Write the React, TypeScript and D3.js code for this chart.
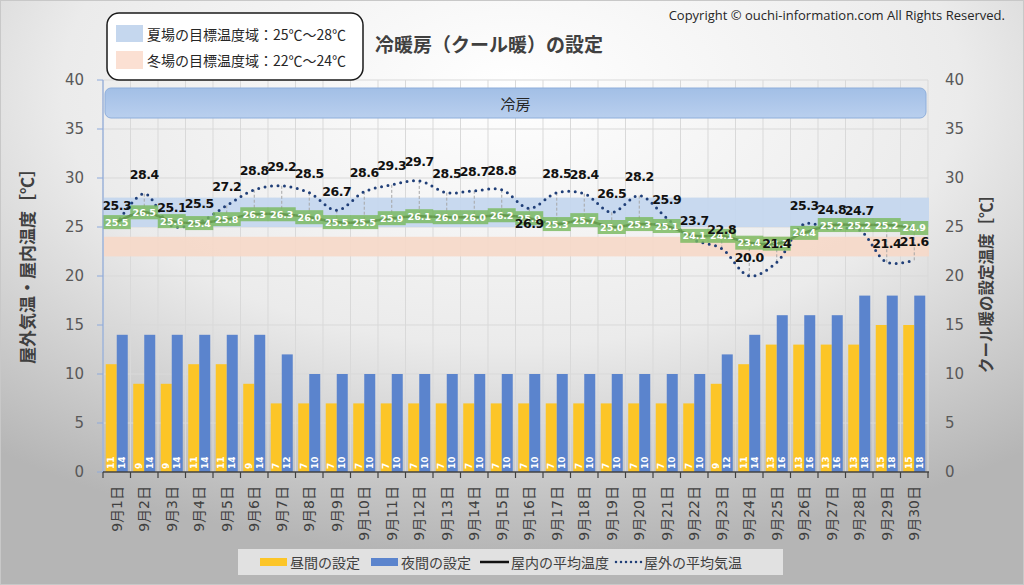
import React from "react";
import * as d3 from "d3";

const days = [
  "9月1日", "9月2日", "9月3日", "9月4日", "9月5日", "9月6日", "9月7日", "9月8日", "9月9日", "9月10日",
  "9月11日", "9月12日", "9月13日", "9月14日", "9月15日", "9月16日", "9月17日", "9月18日", "9月19日", "9月20日",
  "9月21日", "9月22日", "9月23日", "9月24日", "9月25日", "9月26日", "9月27日", "9月28日", "9月29日", "9月30日",
];
// クール暖の設定温度
const daySetting = [11, 9, 9, 11, 11, 9, 7, 7, 7, 7, 7, 7, 7, 7, 7, 7, 7, 7, 7, 7, 7, 7, 9, 11, 13, 13, 13, 13, 15, 15];
const nightSetting = [14, 14, 14, 14, 14, 14, 12, 10, 10, 10, 10, 10, 10, 10, 10, 10, 10, 10, 10, 10, 10, 10, 12, 14, 16, 16, 16, 18, 18, 18];
// 屋内の平均温度 / 屋外の平均気温
const indoor = [25.5, 26.5, 25.6, 25.4, 25.8, 26.3, 26.3, 26.0, 25.5, 25.5, 25.9, 26.1, 26.0, 26.0, 26.2, 25.9, 25.3, 25.7, 25.0, 25.3, 25.1, 24.1, 24.1, 23.4, 23.3, 24.4, 25.2, 25.2, 25.2, 24.9];
const outdoor = [25.3, 28.4, 25.1, 25.5, 27.2, 28.8, 29.2, 28.5, 26.7, 28.6, 29.3, 29.7, 28.5, 28.7, 28.8, 26.9, 28.5, 28.4, 26.5, 28.2, 25.9, 23.7, 22.8, 20.0, 21.4, 25.3, 24.8, 24.7, 21.4, 21.6];
const yTicks = [0, 5, 10, 15, 20, 25, 30, 35, 40];
const summerRange = [25, 28];
const winterRange = [22, 24];

const W = 1024;
const H = 585;
const left = 103;
const right = 928;
const top = 80;
const bottom = 472;

const NUM = "'DejaVu Sans', 'Noto Sans CJK JP', sans-serif";
const JP = "'Noto Sans CJK JP', sans-serif";

export default function App() {
  const x = d3.scaleBand<string>().domain(days).range([left, right]).padding(0);
  const sub = d3.scaleBand<string>().domain(["day", "night"]).range([0, x.bandwidth()]).paddingInner(0).paddingOuter(0.25);
  const y = d3.scaleLinear().domain([0, 40]).range([bottom, top]);
  const cx = (i: number) => (x(days[i]) as number) + x.bandwidth() / 2;

  const line = d3.line<number>().x((_, i) => cx(i)).y((d) => y(d)).curve(d3.curveCatmullRom.alpha(0.5));

  const boundaries = d3.range(days.length + 1).map((i) => left + i * x.step());

  return (
    <div style={{ position: "absolute", left: 0, top: 0 }}>
      <svg width={W} height={H} style={{ display: "block" }}>
        <defs>
          <radialGradient id="bg" cx="50%" cy="15%" r="80%">
            <stop offset="0" stopColor="#ffffff" />
            <stop offset="0.55" stopColor="#ebebeb" />
            <stop offset="1" stopColor="#b5b5b5" />
          </radialGradient>
          <linearGradient id="banner" x1="0" y1="0" x2="0" y2="1">
            <stop offset="0" stopColor="#a2bfe6" />
            <stop offset="1" stopColor="#b9cfee" />
          </linearGradient>
        </defs>
        <rect x={0.5} y={0.5} width={W - 1} height={H - 1} fill="url(#bg)" stroke="#c8c8c8" />

        {/* grid */}
        {yTicks.map((t) => (
          <line key={"gy" + t} x1={left} x2={right} y1={y(t)} y2={y(t)} stroke="#d9d9d9" />
        ))}
        {boundaries.map((b, i) => (
          <line key={"gx" + i} x1={b} x2={b} y1={top} y2={bottom} stroke="#d9d9d9" />
        ))}

        {/* target bands */}
        <rect x={left + 1} width={right - left} y={y(summerRange[1])} height={y(summerRange[0]) - y(summerRange[1])} fill="#c5d7ee" opacity={0.95} />
        <rect x={left + 1} width={right - left} y={y(winterRange[1])} height={y(winterRange[0]) - y(winterRange[1])} fill="#f6d8c8" opacity={0.9} />

        {/* cooling banner */}
        <rect x={left + 2} y={88} width={right - left - 4} height={30} rx={6} fill="url(#banner)" stroke="#8eaedb" />
        <text x={(left + right) / 2} y={103} textAnchor="middle" dominantBaseline="central" fontFamily={JP} fontSize={15} fill="#262626">冷房</text>

        {/* bars */}
        {days.map((d, i) => {
          const x0 = x(d) as number;
          return (
            <g key={"b" + i}>
              <rect x={x0 + (sub("day") as number)} width={sub.bandwidth()} y={y(daySetting[i])} height={bottom - y(daySetting[i])} fill="#fcc527" />
              <rect x={x0 + (sub("night") as number)} width={sub.bandwidth()} y={y(nightSetting[i])} height={bottom - y(nightSetting[i])} fill="#5b84cd" />
              <text transform={`translate(${x0 + (sub("day") as number) + sub.bandwidth() / 2},${bottom - 3}) rotate(-90)`} dominantBaseline="central" fontFamily={NUM} fontWeight="bold" fontSize={9} fill="#fff">{daySetting[i]}</text>
              <text transform={`translate(${x0 + (sub("night") as number) + sub.bandwidth() / 2},${bottom - 3}) rotate(-90)`} dominantBaseline="central" fontFamily={NUM} fontWeight="bold" fontSize={9} fill="#fff">{nightSetting[i]}</text>
            </g>
          );
        })}

        {/* high-low lines */}
        {days.map((d, i) => (
          <line key={"hl" + i} x1={cx(i)} x2={cx(i)} y1={y(outdoor[i])} y2={y(indoor[i])} stroke="#a6a6a6" strokeDasharray="3 2" />
        ))}

        {/* lines */}
        <path d={line(outdoor) || ""} fill="none" stroke="#203f78" strokeWidth={3} strokeDasharray="0 6.5" strokeLinecap="round" />
        <path d={line(indoor) || ""} fill="none" stroke="#111" strokeWidth={2.5} />

        {/* indoor labels */}
        {days.map((d, i) => (
          <g key={"il" + i}>
            <rect x={cx(i) - 14} y={y(indoor[i]) - 7} width={28} height={14} fill="#79b95e" opacity={0.82} />
            <text x={cx(i)} y={y(indoor[i])} textAnchor="middle" dominantBaseline="central" fontFamily={NUM} fontWeight="bold" fontSize={9.5} fill="#fff">{indoor[i].toFixed(1)}</text>
          </g>
        ))}
        {/* outdoor labels (9/16 sits below its point in the original) */}
        {days.map((d, i) => (
          <text key={"ol" + i} x={cx(i)} y={i === 15 ? y(outdoor[i]) + 15 : y(outdoor[i]) - 19} textAnchor="middle" dominantBaseline="central" fontFamily={NUM} fontWeight="bold" fontSize={12.5} letterSpacing={-0.4} fill="#111">{outdoor[i].toFixed(1)}</text>
        ))}

        {/* axes */}
        <line x1={left} x2={left} y1={top} y2={bottom} stroke="#8eaadb" strokeWidth={1.2} />
        {yTicks.map((t) => (
          <g key={"yt" + t}>
            <line x1={left - 6} x2={left} y1={y(t)} y2={y(t)} stroke="#8eaadb" />
            <text x={84} y={y(t)} textAnchor="end" dominantBaseline="central" fontFamily={NUM} fontSize={15} fill="#595959">{t}</text>
            <text x={945} y={y(t)} dominantBaseline="central" fontFamily={NUM} fontSize={15} fill="#595959">{t}</text>
          </g>
        ))}
        <line x1={left} x2={right + 1} y1={bottom} y2={bottom} stroke="#404040" strokeWidth={1.5} />
        {boundaries.map((b, i) => (
          <line key={"xt" + i} x1={b} x2={b} y1={bottom} y2={bottom + 6} stroke="#404040" strokeWidth={1.2} />
        ))}
        {days.map((d, i) => (
          <text key={"xl" + i} transform={`translate(${cx(i)},${486}) rotate(-90)`} textAnchor="end" dominantBaseline="central" fontFamily={NUM} fontSize={14} fill="#404040">{d}</text>
        ))}

        {/* axis titles */}
        <text transform="translate(26,262) rotate(-90)" textAnchor="middle" dominantBaseline="central" fontFamily={JP} fontWeight="bold" fontSize={17} fill="#404040">屋外気温・屋内温度［℃］</text>
        <text transform="translate(985,280) rotate(-90)" textAnchor="middle" dominantBaseline="central" fontFamily={JP} fontWeight="bold" fontSize={15.5} fill="#404040">クール暖の設定温度［℃］</text>

        {/* title & copyright */}
        <text x={375} y={43} dominantBaseline="central" fontFamily={JP} fontWeight="bold" fontSize={19} fill="#404040">冷暖房（クール暖）の設定</text>
        <text x={1005} y={15} textAnchor="end" dominantBaseline="central" fontFamily="'Open Sans', sans-serif" fontSize={13} fill="#262626">Copyright © ouchi-information.com All Rights Reserved.</text>

        {/* top-left legend */}
        <rect x={107} y={13} width={256} height={67} rx={12} fill="#fff" stroke="#1a1a1a" strokeWidth={1.5} />
        <rect x={116} y={25} width={27} height={17} fill="#c5d7ee" />
        <rect x={116} y={51} width={27} height={18} fill="#fbe0d3" />
        <text x={147} y={33.5} dominantBaseline="central" fontFamily={JP} fontSize={14} fill="#262626">夏場の目標温度域：25℃～28℃</text>
        <text x={147} y={60} dominantBaseline="central" fontFamily={JP} fontSize={14} fill="#262626">冬場の目標温度域：22℃～24℃</text>

        {/* bottom legend */}
        <rect x={238} y={549} width={545} height={26} fill="#e6e6e6" opacity={0.9} />
        <rect x={260} y={558} width={27} height={8} fill="#fcc527" />
        <text x={290} y={562} dominantBaseline="central" fontFamily={JP} fontSize={14} fill="#404040">昼間の設定</text>
        <rect x={371} y={558} width={27} height={8} fill="#5b84cd" />
        <text x={401} y={562} dominantBaseline="central" fontFamily={JP} fontSize={14} fill="#404040">夜間の設定</text>
        <line x1={480} x2={509} y1={562} y2={562} stroke="#111" strokeWidth={2.5} />
        <text x={511} y={562} dominantBaseline="central" fontFamily={JP} fontSize={14} fill="#404040">屋内の平均温度</text>
        <line x1={616} x2={642} y1={562} y2={562} stroke="#203f78" strokeWidth={2.5} strokeDasharray="0 5" strokeLinecap="round" />
        <text x={644} y={562} dominantBaseline="central" fontFamily={JP} fontSize={14} fill="#404040">屋外の平均気温</text>
      </svg>
    </div>
  );
}
